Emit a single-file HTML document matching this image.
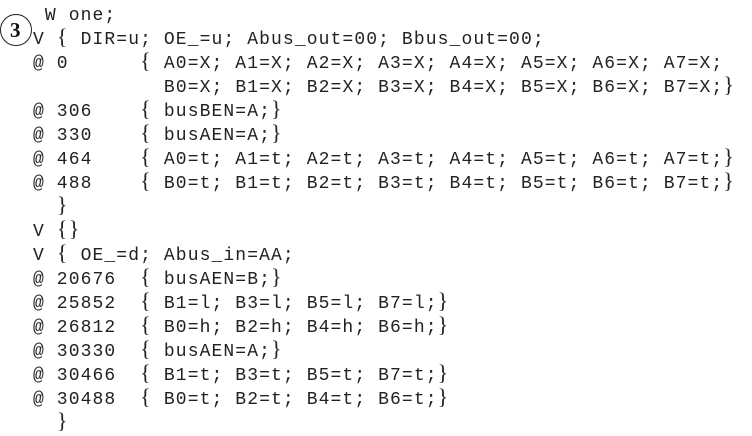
<!DOCTYPE html>
<html><head><meta charset="utf-8"><style>
html,body{margin:0;padding:0;background:#fff;}
body{width:752px;height:432px;position:relative;overflow:hidden;}
pre{position:absolute;left:33px;top:4px;margin:0;font-family:"Liberation Mono",monospace;font-size:18px;letter-spacing:1.1px;line-height:24px;color:#222;}
.b{letter-spacing:1.3px;font-family:"Liberation Serif",serif;font-size:22px;line-height:0;}
.c{position:absolute;left:0;top:14px;width:32px;height:32px;border:1.3px solid #222;border-radius:50%;box-sizing:border-box;}
.c span{position:absolute;left:9px;top:3px;font-family:"Liberation Serif",serif;font-weight:bold;font-size:21px;color:#111;}
</style></head><body>
<div class="c"><span>3</span></div>
<pre> W one;
V <span class="b">{</span> DIR=u; OE_=u; Abus_out=00; Bbus_out=00;
@ 0      <span class="b">{</span> A0=X; A1=X; A2=X; A3=X; A4=X; A5=X; A6=X; A7=X;
           B0=X; B1=X; B2=X; B3=X; B4=X; B5=X; B6=X; B7=X;<span class="b">}</span>
@ 306    <span class="b">{</span> busBEN=A;<span class="b">}</span>
@ 330    <span class="b">{</span> busAEN=A;<span class="b">}</span>
@ 464    <span class="b">{</span> A0=t; A1=t; A2=t; A3=t; A4=t; A5=t; A6=t; A7=t;<span class="b">}</span>
@ 488    <span class="b">{</span> B0=t; B1=t; B2=t; B3=t; B4=t; B5=t; B6=t; B7=t;<span class="b">}</span>
  <span class="b">}</span>
V <span class="b">{</span><span class="b">}</span>
V <span class="b">{</span> OE_=d; Abus_in=AA;
@ 20676  <span class="b">{</span> busAEN=B;<span class="b">}</span>
@ 25852  <span class="b">{</span> B1=l; B3=l; B5=l; B7=l;<span class="b">}</span>
@ 26812  <span class="b">{</span> B0=h; B2=h; B4=h; B6=h;<span class="b">}</span>
@ 30330  <span class="b">{</span> busAEN=A;<span class="b">}</span>
@ 30466  <span class="b">{</span> B1=t; B3=t; B5=t; B7=t;<span class="b">}</span>
@ 30488  <span class="b">{</span> B0=t; B2=t; B4=t; B6=t;<span class="b">}</span>
  <span class="b">}</span></pre>
</body></html>
